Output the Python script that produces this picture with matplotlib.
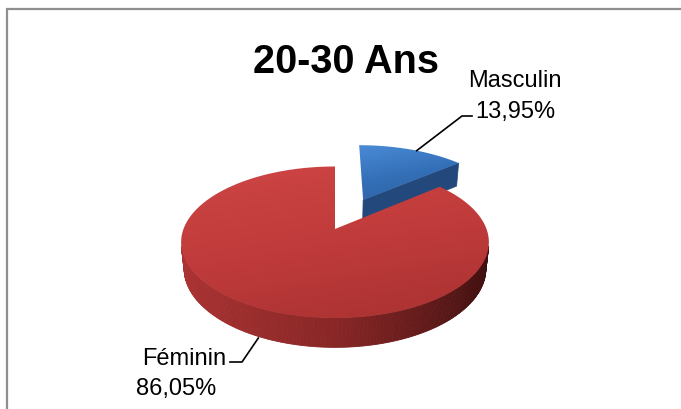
import numpy as np
import matplotlib.pyplot as plt
from matplotlib.patches import Polygon
from matplotlib.colors import LinearSegmentedColormap

plt.rcParams["font.family"] = ["Liberation Sans", "DejaVu Sans"]

# data
title = "20-30 Ans"
categories = ["Masculin", "Féminin"]
values = [13.95, 86.05]

# 3D pie set-up: unit radius disc seen from above with some perspective
cx, cy = 335, 230          # pixel position of the pie centre
K = 151.5                  # pixels per unit radius
elev = np.radians(29)
D = 5.0                    # camera distance
thick = 0.2
explode = [0.47, 0.0]

top_cmaps = [
    LinearSegmentedColormap.from_list("bt", ["#4A8BD6", "#3470B8", "#2C5F9E"]),
    LinearSegmentedColormap.from_list("rt", ["#CE4545", "#C03B3B", "#A93131"]),
]
side_cmaps = [
    LinearSegmentedColormap.from_list("bs", ["#2E5C98", "#23497C", "#1B3960"]),
    LinearSegmentedColormap.from_list("rs", ["#AE3434", "#892626", "#3E0F0F"]),
]

ce, se = np.cos(elev), np.sin(elev)
cam = np.array([0.0, -D * ce, D * se])


def proj(X, Y, Z=0.0):
    X, Y, Z = np.asarray(X), np.asarray(Y), np.asarray(Z)
    depth = Y * ce - Z * se + D
    u = D * X / depth
    v = D * (Y * se + Z * ce) / depth
    return cx + K * u, cy - K * v


def pct(v):
    return f"{v:.2f}".replace(".", ",") + "%"


fig = plt.figure(figsize=(6.81, 4.10), dpi=100)
ax = fig.add_axes([0, 0, 1, 1])
ax.axis("off")

# wedge spans: start at 12 o'clock, go clockwise
fracs = np.array(values) / sum(values)
spans = []
start = np.pi / 2
for f in fracs:
    spans.append((start - f * 2 * np.pi, start))
    start -= f * 2 * np.pi

shifts = []
for (lo, hi), r in zip(spans, explode):
    m = (lo + hi) / 2
    shifts.append((r * np.cos(m), r * np.sin(m)))

z = 1
for i, ((lo, hi), (sx, sy)) in enumerate(zip(spans, shifts)):
    scm, tcm = side_cmaps[i], top_cmaps[i]
    to_cam = cam - np.array([sx, sy, 0.0])

    # radial walls facing the camera
    for th, sign in ((lo, 1), (hi, -1)):
        normal = sign * np.array([np.sin(th), -np.cos(th), 0.0])
        if normal @ to_cam <= 0 or abs(np.cos(th)) < 1e-6:
            continue
        X = [sx, sx + np.cos(th), sx + np.cos(th), sx]
        Y = [sy, sy + np.sin(th), sy + np.sin(th), sy]
        Zs = [0, 0, -thick, -thick]
        px, py = proj(X, Y, Zs)
        ax.add_patch(Polygon(np.column_stack([px, py]), closed=True,
                             fc=scm(0.5), ec=scm(0.5), lw=0.5, zorder=z))

    # outer wall, only where it faces the camera
    ths = np.linspace(lo, hi, 400)
    for a, b in zip(ths[:-1], ths[1:]):
        m = (a + b) / 2
        n = np.array([np.cos(m), np.sin(m), 0.0])
        p = np.array([sx + np.cos(m), sy + np.sin(m), 0.0])
        if n @ (cam - p) <= 0:
            continue
        col = scm((np.cos(m) + 1) / 2)
        X = [sx + np.cos(a), sx + np.cos(b), sx + np.cos(b), sx + np.cos(a)]
        Y = [sy + np.sin(a), sy + np.sin(b), sy + np.sin(b), sy + np.sin(a)]
        px, py = proj(X, Y, [0, 0, -thick, -thick])
        ax.add_patch(Polygon(np.column_stack([px, py]), closed=True,
                             fc=col, ec=col, lw=0.6, zorder=z))

    # top face with a soft gradient
    px, py = proj(np.r_[sx, sx + np.cos(ths)], np.r_[sy, sy + np.sin(ths)])
    top = Polygon(np.column_stack([px, py]), closed=True, fc="none", ec="none",
                  zorder=z + 1)
    ax.add_patch(top)
    gy, gx = np.mgrid[0:1:200j, 0:1:200j]
    grad = 0.75 * gy + 0.25 * gx
    im = ax.imshow(grad, cmap=tcm, vmin=0, vmax=1, origin="upper",
                   extent=(px.min(), px.max(), py.max(), py.min()),
                   aspect="auto", interpolation="bilinear", zorder=z + 1)
    im.set_clip_path(top)
    z += 2

ax.set_xlim(0, 681)
ax.set_ylim(410, 0)

# title
ax.text(346, 73, title, ha="center", va="baseline", fontsize=28.5,
        fontweight="bold", color="black", zorder=10)

# labels with leader lines
mids = [(lo + hi) / 2 for lo, hi in spans]
mx, my = proj(shifts[0][0] + np.cos(mids[0]), shifts[0][1] + np.sin(mids[0]))
ax.plot([mx + 5, 462, 472], [my + 1, 117, 117], color="black", lw=1.2, zorder=10)
ax.text(515, 87, categories[0], ha="center", va="baseline", fontsize=17, zorder=10)
ax.text(515, 118, pct(values[0]), ha="center", va="baseline", fontsize=17, zorder=10)

fx, fy = proj(shifts[1][0] + np.cos(mids[1]), shifts[1][1] + np.sin(mids[1]), -thick)
ax.plot([230, 242, fx - 2], [363, 363, fy + 1], color="black", lw=1.2, zorder=10)
ax.text(184, 365, categories[1], ha="center", va="baseline", fontsize=17, zorder=10)
ax.text(176, 395, pct(values[1]), ha="center", va="baseline", fontsize=17, zorder=10)

# chart frame (only top and left edges fall inside the crop)
ax.plot([6, 681], [10, 10], color="#8F8F8F", lw=1.6, solid_capstyle="butt")
ax.plot([7, 7], [10, 410], color="#8F8F8F", lw=1.6, solid_capstyle="butt")

fig.savefig("out.png", dpi=100)
